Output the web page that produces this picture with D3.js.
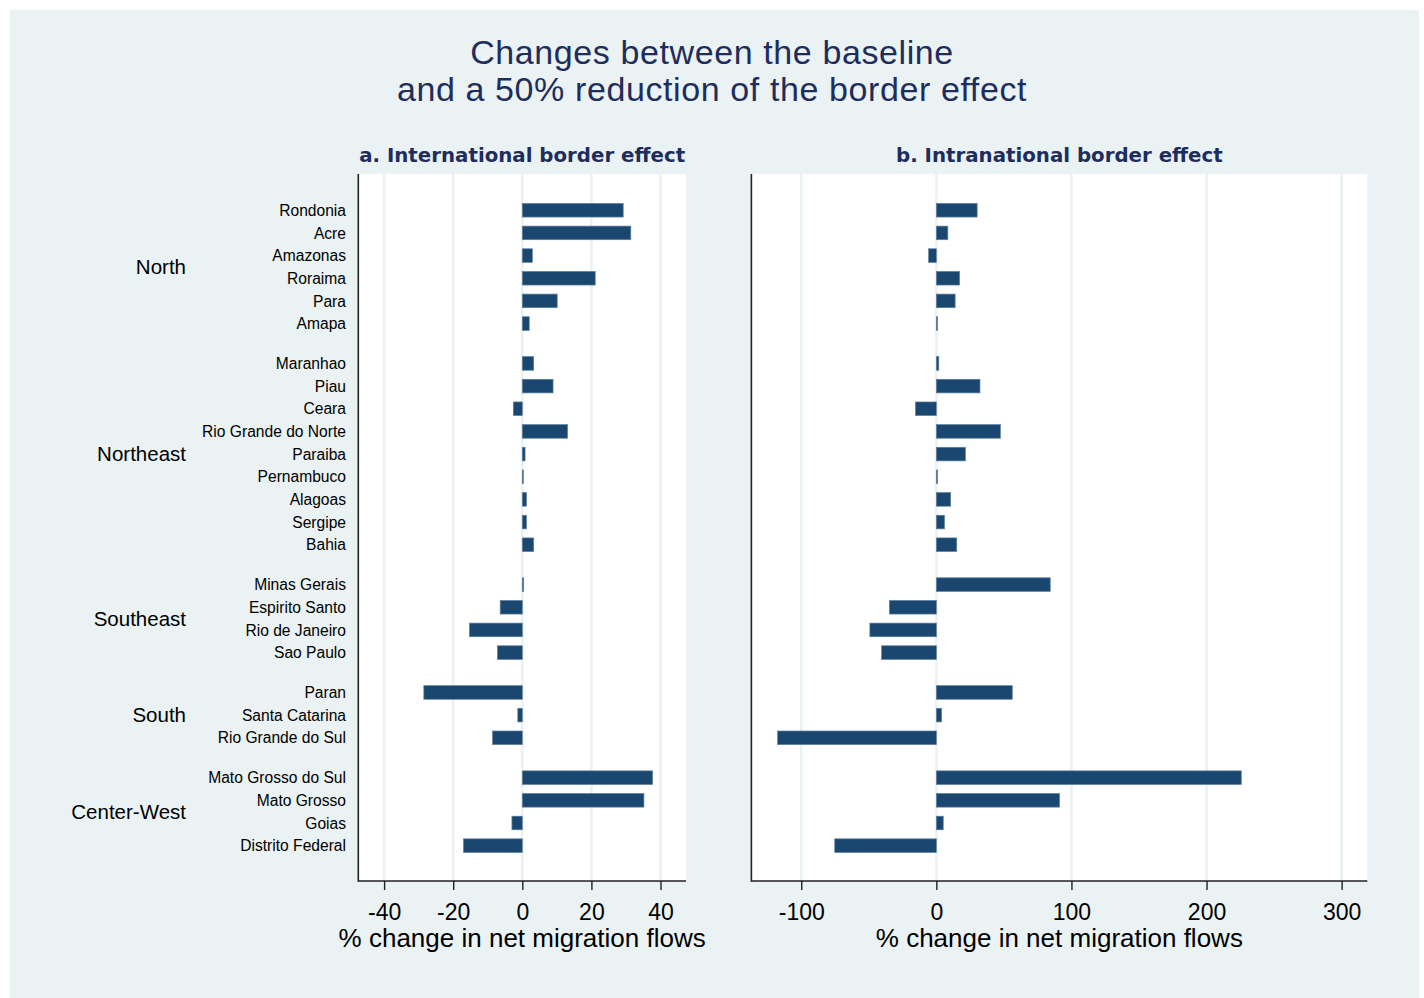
<!DOCTYPE html>
<html>
<head>
<meta charset="utf-8">
<script src="https://cdn.jsdelivr.net/npm/d3@7/dist/d3.min.js"></script>
<style>
  html, body { margin: 0; padding: 0; background: #ffffff; }
  svg { display: block; }
</style>
</head>
<body>
<svg id="chart" width="1424" height="998"></svg>
<script>
// ---------------- DATA ----------------
const titleLines = ["Changes between the baseline", "and a 50% reduction of the border effect"];
const panelTitles = ["a. International border effect", "b. Intranational border effect"];
const axisTitle = "% change in net migration flows";

const regions = ["North", "Northeast", "Southeast", "South", "Center-West"];
const states = [
  "Rondonia", "Acre", "Amazonas", "Roraima", "Para", "Amapa",
  "Maranhao", "Piau", "Ceara", "Rio Grande do Norte", "Paraiba", "Pernambuco", "Alagoas", "Sergipe", "Bahia",
  "Minas Gerais", "Espirito Santo", "Rio de Janeiro", "Sao Paulo",
  "Paran", "Santa Catarina", "Rio Grande do Sul",
  "Mato Grosso do Sul", "Mato Grosso", "Goias", "Distrito Federal"
];
const stateRegion = [
  "North", "North", "North", "North", "North", "North",
  "Northeast", "Northeast", "Northeast", "Northeast", "Northeast", "Northeast", "Northeast", "Northeast", "Northeast",
  "Southeast", "Southeast", "Southeast", "Southeast",
  "South", "South", "South",
  "Center-West", "Center-West", "Center-West", "Center-West"
];
const intlChange = [
  29.2, 31.4, 2.9, 21.1, 10.1, 2.0,
  3.3, 8.9, -2.6, 13.1, 0.8, 0.3, 1.2, 1.2, 3.3,
  0.4, -6.4, -15.3, -7.2,
  -28.5, -1.3, -8.6,
  37.7, 35.2, -3.0, -17.0
];
const intraChange = [
  30.2, 8.5, -5.7, 17.2, 13.9, 0.9,
  1.8, 32.3, -15.4, 47.4, 21.5, 0.9, 10.6, 6.0, 15.1,
  84.3, -34.7, -49.2, -40.5,
  56.2, 3.9, -117.5,
  225.7, 91.2, 5.1, -75.2
];
const ticksA = [-40, -20, 0, 20, 40];
const ticksB = [-100, 0, 100, 200, 300];

// ---------------- STYLE / LAYOUT ----------------
const BG = "#eaf2f3";
const BAR = "#1a476f";
const NAVY = "#1e2d5c";
const SANS = "'Liberation Sans', Arial, Helvetica, sans-serif";
const plotTop = 174, plotBottom = 881;
const groupGap = 0.76;   // extra slots between regions
const barH = 13.6;

const svg = d3.select("#chart");

// outer background
svg.append("rect").attr("x", 10).attr("y", 10).attr("width", 1409).attr("height", 988).attr("fill", BG);

// titles
svg.append("text").attr("x", 712).attr("y", 63.5).attr("text-anchor", "middle")
  .attr("font-family", SANS).attr("font-size", 34).attr("letter-spacing", 0.6)
  .attr("fill", NAVY).text(titleLines[0]);
svg.append("text").attr("x", 712).attr("y", 101).attr("text-anchor", "middle")
  .attr("font-family", SANS).attr("font-size", 34).attr("letter-spacing", 0.6)
  .attr("fill", NAVY).text(titleLines[1]);

// slot positions (row index + group gaps)
const slots = states.map((s, i) => i + regions.indexOf(stateRegion[i]) * groupGap);
const lastSlot = slots[slots.length - 1];
const y = d3.scaleLinear().domain([-1.6, lastSlot + 1.56]).range([plotTop, plotBottom]);

const panels = [
  { values: intlChange, ticks: ticksA, domain: [-47.47, 47.38], range: [358.3, 686], title: panelTitles[0] },
  { values: intraChange, ticks: ticksB, domain: [-136.9, 319.0], range: [751.4, 1367.3], title: panelTitles[1] }
];

panels.forEach((p) => {
  const x = d3.scaleLinear().domain(p.domain).range(p.range);
  const g = svg.append("g");

  // plot area
  g.append("rect").attr("x", p.range[0]).attr("y", plotTop)
    .attr("width", p.range[1] - p.range[0]).attr("height", plotBottom - plotTop).attr("fill", "#ffffff");

  // gridlines
  g.selectAll("line.grid").data(p.ticks).enter().append("line")
    .attr("x1", d => x(d)).attr("x2", d => x(d))
    .attr("y1", plotTop).attr("y2", plotBottom)
    .attr("stroke", BG).attr("stroke-width", 2.6);

  // bars
  g.selectAll("rect.bar").data(p.values).enter().append("rect")
    .attr("x", d => Math.min(x(0), x(d)))
    .attr("width", d => Math.max(0.8, Math.abs(x(d) - x(0))))
    .attr("y", (d, i) => y(slots[i]) - barH / 2)
    .attr("height", barH)
    .attr("fill", BAR).attr("stroke", "#5f7f9c").attr("stroke-width", 0.7);

  // x axis
  const ax = g.append("g").attr("transform", `translate(0,${plotBottom})`)
    .call(d3.axisBottom(x).tickValues(p.ticks).tickSize(9).tickPadding(6).tickFormat(d => String(d)));
  ax.select(".domain").attr("stroke", "#222").attr("stroke-width", 1.6)
    .attr("d", `M${p.range[0]},0H${p.range[1]}`);
  ax.selectAll(".tick line").attr("stroke", "#222").attr("stroke-width", 1.4);
  ax.selectAll(".tick text").attr("font-family", SANS).attr("font-size", 23).attr("fill", "#000")
    .attr("dy", null).attr("y", 38.5);

  // left axis line
  g.append("line").attr("x1", p.range[0]).attr("x2", p.range[0])
    .attr("y1", plotTop).attr("y2", plotBottom + 0.8)
    .attr("stroke", "#222").attr("stroke-width", 1.6);

  // axis title
  g.append("text").attr("x", (p.range[0] + p.range[1]) / 2)
    .attr("y", 946.5).attr("text-anchor", "middle")
    .attr("font-family", SANS).attr("font-size", 26).attr("fill", "#000").text(axisTitle);

  // panel title
  g.append("text").attr("x", (p.range[0] + p.range[1]) / 2).attr("y", 162).attr("text-anchor", "middle")
    .attr("font-family", "'DejaVu Sans', Verdana, sans-serif").attr("font-weight", "bold")
    .attr("font-size", 19.8).attr("fill", NAVY).text(p.title);
});

// state labels
svg.selectAll("text.state").data(states).enter().append("text")
  .attr("x", 346).attr("y", (d, i) => y(slots[i]) + 5.7)
  .attr("text-anchor", "end").attr("font-family", SANS).attr("font-size", 15.6)
  .attr("fill", "#000").text(d => d);

// region labels, centered on their group of rows
regions.forEach((r) => {
  const idx = stateRegion.map((s, i) => s === r ? i : -1).filter(i => i >= 0);
  const mid = (y(slots[idx[0]]) + y(slots[idx[idx.length - 1]])) / 2;
  svg.append("text").attr("x", 186).attr("y", mid + 7.2)
    .attr("text-anchor", "end").attr("font-family", SANS).attr("font-size", 20.5)
    .attr("fill", "#000").text(r);
});
</script>
</body>
</html>
